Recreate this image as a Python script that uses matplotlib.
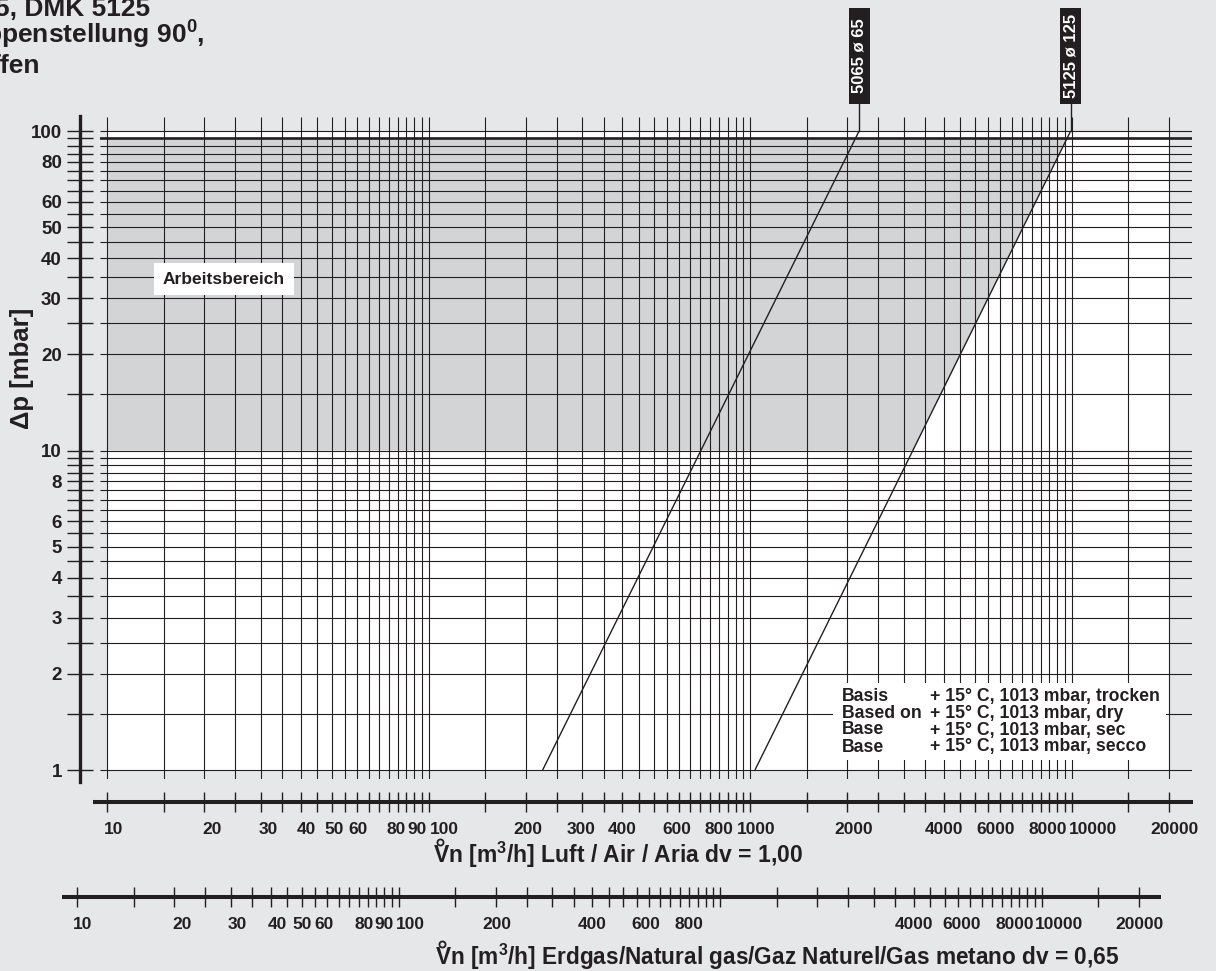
import numpy as np
import matplotlib
matplotlib.use("Agg")
import matplotlib.pyplot as plt
from matplotlib.patches import Rectangle
from matplotlib.lines import Line2D
from matplotlib.ticker import NullLocator

# ---------------- data ----------------
dp_ticks = np.concatenate([np.arange(1, 10, 0.5), np.arange(10, 100.1, 5)])
dp_labels = [1, 2, 3, 4, 5, 6, 8, 10, 20, 30, 40, 50, 60, 80, 100]
flow_ticks = np.concatenate([np.arange(10, 100, 5), np.arange(100, 1000, 50),
                             np.arange(1000, 10000, 500), [10000, 15000, 20000]])
air_labels = [10, 20, 30, 40, 50, 60, 80, 90, 100, 200, 300, 400, 600, 800,
              1000, 2000, 4000, 6000, 8000, 10000, 20000]
gas_labels = [10, 20, 30, 40, 50, 60, 80, 90, 100, 200, 400, 600, 800,
              4000, 6000, 8000, 10000, 20000]
curve_names = ["5065 ø 65", "5125 ø 125"]
curve_dp = [1, 100]
curve_flow_5065 = [226, 2180]
curve_flow_5125 = [1034, 9920]
work_dp_min = 10
work_dp_max = 95
dv_gas = 0.65
legend_left = ["Basis", "Based on", "Base", "Base"]
legend_right = ["+ 15° C, 1013 mbar, trocken", "+ 15° C, 1013 mbar, dry",
                "+ 15° C, 1013 mbar, sec", "+ 15° C, 1013 mbar, secco"]
title_lines = ["5, DMK 5125", "ppenstellung 90$^0$,", "ffen"]

# ---------------- style ----------------
BG = "#e6e7e9"
SHADE = "#d3d4d6"
INK = "#231f20"
plt.rcParams["font.family"] = ["Liberation Sans", "DejaVu Sans"]
plt.rcParams["font.weight"] = "bold"
plt.rcParams["mathtext.fontset"] = "custom"
plt.rcParams["mathtext.rm"] = "Liberation Sans:bold"
plt.rcParams["mathtext.it"] = "Liberation Sans:bold"
plt.rcParams["mathtext.bf"] = "Liberation Sans:bold"
plt.rcParams["text.color"] = INK

W, H = 1216, 971
PT = 100 / 72.0
X10, DEC_X = 107.3, 321.5
Y1, DEC_Y = 770.0, 319.5


def air_at(px):
    return 10 ** (1 + (px - X10) / DEC_X)


def dp_at(py):
    return 10 ** ((Y1 - py) / DEC_Y)


def rect(l, t, r, b):
    return [l / W, 1 - b / H, (r - l) / W, (b - t) / H]


def fmt(v):
    return f"{int(v)}"


fig = plt.figure(figsize=(W / 100, H / 100), dpi=100, facecolor=BG)

# ---------------- main grid ----------------
ax = fig.add_axes(rect(100, 117, 1192, 779))
ax.set_xscale("log")
ax.set_yscale("log")
ax.set_xlim(air_at(100), air_at(1192))
ax.set_ylim(dp_at(779), dp_at(117))
ax.axis("off")
ax.patch.set_visible(False)

x0, x1 = flow_ticks.min(), flow_ticks.max()
y0, y1 = dp_ticks.min(), dp_ticks.max()
ax.fill([x0, x1, x1, x0], [y0, y0, y1, y1], color="white", lw=0, zorder=0)

ly = np.log10(curve_dp)
lx = np.log10(curve_flow_5125)
xb = 10 ** np.interp(np.log10(work_dp_min), ly, lx)
xt = 10 ** np.interp(np.log10(work_dp_max), ly, lx)
ax.fill([x0, xb, xt, x0], [work_dp_min, work_dp_min, work_dp_max, work_dp_max],
        color=SHADE, lw=0, zorder=0.5)

xl = ax.get_xlim()
yl = ax.get_ylim()
ax.hlines(dp_ticks, xl[0], xl[1], color=INK, lw=0.8, zorder=1)
ax.vlines(flow_ticks, yl[0], yl[1], color=INK, lw=0.8, zorder=1)
ax.axhline(work_dp_max, color=INK, lw=1.9, zorder=1.2)

BOX_TOP, BOX_BOT, BOX_W = 8, 104, 21
for name, flows in zip(curve_names, (curve_flow_5065, curve_flow_5125)):
    ax.plot(flows, curve_dp, color=INK, lw=1.0, zorder=2, solid_capstyle="butt")
    # leader line up to the label box
    ax.plot([flows[-1], flows[-1]], [curve_dp[-1], dp_at(BOX_BOT)], color=INK, lw=1.0,
            clip_on=False, zorder=2)
    xp = ax.transData.transform((flows[-1], curve_dp[-1]))[0]
    fig.add_artist(Rectangle(((xp - BOX_W / 2) / W, 1 - BOX_BOT / H), BOX_W / W,
                             (BOX_BOT - BOX_TOP) / H, transform=fig.transFigure,
                             fc=INK, ec="none", zorder=5))
    fig.text(xp / W, 1 - (BOX_TOP + BOX_BOT) / 2 / H, name, rotation=90, ha="center",
             va="center", color="white", fontsize=12, zorder=6)

ax.text((224 - 100) / 1092, (779 - 279) / 662, "Arbeitsbereich", transform=ax.transAxes,
        ha="center", va="center", fontsize=12.5, zorder=4,
        bbox=dict(boxstyle="square,pad=0.5", fc="white", ec="none"))

# ---------------- left Δp axis ----------------
yax = fig.add_axes(rect(79.7, 116, 80.7, 782))
yax.set_yscale("log")
yax.set_ylim(dp_at(782), dp_at(116))
yax.patch.set_visible(False)
for s in ("right", "top", "bottom"):
    yax.spines[s].set_visible(False)
yax.spines["left"].set_linewidth(2.4)
yax.spines["left"].set_color(INK)
yax.set_xticks([])
yax.set_yticks(dp_ticks)
yax.set_yticklabels([fmt(v) if v in dp_labels else "" for v in dp_ticks])
yax.yaxis.set_minor_locator(NullLocator())
yax.tick_params(axis="y", direction="inout", length=18.5, width=1.0, pad=3.6,
                labelsize=13.5, colors=INK)

fig.text(22 / W, 1 - 368 / H, "Δp [mbar]", rotation=90, ha="center", va="center",
         fontsize=18.5)


# ---------------- bottom flow axes ----------------
def flow_axis(l, r, py, lim, labels, nudges):
    a = fig.add_axes(rect(l, py - 1, r, py))
    a.set_xscale("log")
    a.set_xlim(*lim)
    a.patch.set_visible(False)
    for s in ("left", "right", "top"):
        a.spines[s].set_visible(False)
    a.spines["bottom"].set_linewidth(2.9)
    a.spines["bottom"].set_color(INK)
    a.spines["bottom"].set_capstyle("butt")
    a.set_yticks([])
    a.set_xticks(flow_ticks)
    a.set_xticklabels([])
    a.xaxis.set_minor_locator(NullLocator())
    a.tick_params(axis="x", direction="inout", length=14.4, width=1.0, colors=INK)
    for v in labels:
        a.annotate(fmt(v), xy=(v, 0), xycoords=("data", "axes fraction"),
                   xytext=(nudges.get(v, 0) / PT, -27 / PT), textcoords="offset points",
                   ha="center", va="center", fontsize=12.5)
    return a


air_nudge = {10: 6, 20: 8, 30: 8, 40: 6, 50: 2.5, 60: 1, 80: -2, 90: 2.7, 100: 16,
             200: 2.5, 300: -1, 600: -2, 1000: 6, 2000: 7, 6000: -5, 8000: 7,
             10000: 21, 20000: 5.5}
gas_nudge = {10: 5, 20: 8, 30: 7, 40: 6.5, 50: 0, 60: -3, 80: -3.5, 90: 0, 100: 12,
             200: 1, 600: -3, 6000: -8.5, 8000: 4, 10000: 17, 20000: 1}

flow_axis(93, 1193, 802, (air_at(93), air_at(1193)), air_labels, air_nudge)
sq = np.sqrt(dv_gas)
flow_axis(62, 1161, 897, (air_at(62) / sq, air_at(1161) / sq), gas_labels, gas_nudge)

fig.text(432.7 / W, 1 - 863 / H, "Vn [m$^3$/h] Luft / Air / Aria dv = 1,00",
         ha="left", va="baseline", fontsize=16.5)
fig.text(435 / W, 1 - 965 / H,
         "Vn [m$^3$/h] Erdgas/Natural gas/Gaz Naturel/Gas metano dv = 0,65",
         ha="left", va="baseline", fontsize=16.3)
for rx, ry in ((440, 842), (442, 944)):
    fig.add_artist(Line2D([rx / W], [1 - ry / H], marker="o", ms=4.4, mfc="none",
                          mec=INK, mew=1.3, transform=fig.transFigure))

# ---------------- legend block ----------------
fig.add_artist(Rectangle((833 / W, 1 - 760 / H), 333 / W, 77 / H, transform=fig.transFigure,
                         fc="white", ec="none", zorder=3))
for i, (a_txt, b_txt) in enumerate(zip(legend_left, legend_right)):
    yy = 1 - (696 + 17 * i) / H
    fig.text(841.7 / W, yy, a_txt, ha="left", va="center", fontsize=12.7, zorder=4)
    fig.text(930 / W, yy, b_txt, ha="left", va="center", fontsize=12.7, zorder=4)

# ---------------- title (cut at left edge) ----------------
for txt, rx, by in zip(title_lines, (150, 205, 40), (16, 44, 73)):
    fig.text(rx / W, 1 - by / H, txt, ha="right", va="baseline", fontsize=19)

fig.savefig("out.png", dpi=100, facecolor=BG)
